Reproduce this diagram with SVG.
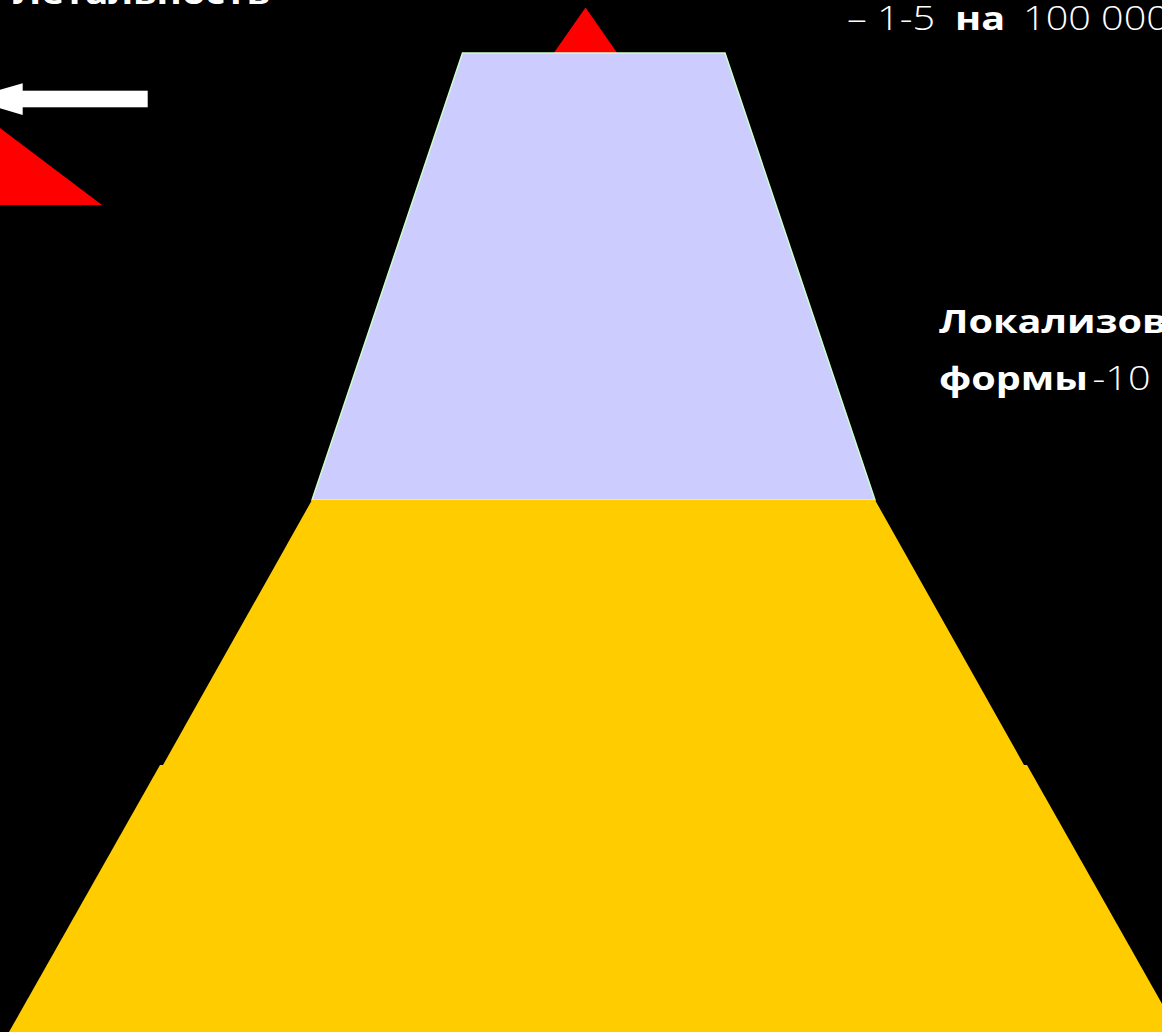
<svg xmlns="http://www.w3.org/2000/svg" width="1162" height="1032" viewBox="0 0 1162 1032">
  <style>
    .t { font-family: "Open Sans", "Noto Sans", "DejaVu Sans", sans-serif; font-size: 33px; fill: #FFFFFF; }
    .b { font-weight: 700; }
    .l { font-weight: 300; }
    .red { fill: #FF0000; }
    .yel { fill: #FFCC00; }
  </style>
  <rect x="0" y="0" width="1162" height="1032" fill="#000000"/>

  <g id="red-apex">
    <polygon class="red" points="585.5,7.5 535,80 636,80"/>
  </g>

  <g id="level-top">
    <polygon points="462.5,53 725,53 875,500 312,500" fill="#CCCCFF" stroke="#CCFFCC" stroke-width="1.5"/>
  </g>

  <g id="level-middle">
    <polygon class="yel" points="312,500 875,500 1024,765 163,765"/>
  </g>

  <g id="level-bottom">
    <polygon class="yel" points="160,765 1027,765 1178,1032 9,1032"/>
  </g>

  <g id="red-corner">
    <polygon class="red" points="0,128 102,205 0,205"/>
  </g>

  <g id="connectors">
    <rect x="22" y="90.7" width="125.7" height="16.6" fill="#FFFFFF"/>
    <polygon points="22.7,83.3 22.7,115 -32,99" fill="#FFFFFF"/>
  </g>

  <g id="label-lethality">
    <text class="t b" transform="translate(13,4) scale(1.16,1)">Летальность</text>
  </g>

  <g id="label-rate">
    <text class="t" transform="translate(847,30) scale(1.2,1)"><tspan class="l" x="0">– 1-5</tspan><tspan class="b" x="90">на</tspan><tspan class="l" x="146.7">100 000</tspan></text>
  </g>

  <g id="label-local">
    <text class="t b" transform="translate(939,333) scale(1.2,1)">Локализованные</text>
    <text class="t" transform="translate(939,390) scale(1.2,1)"><tspan class="b">формы</tspan><tspan class="l" x="128">-10</tspan></text>
  </g>
</svg>
